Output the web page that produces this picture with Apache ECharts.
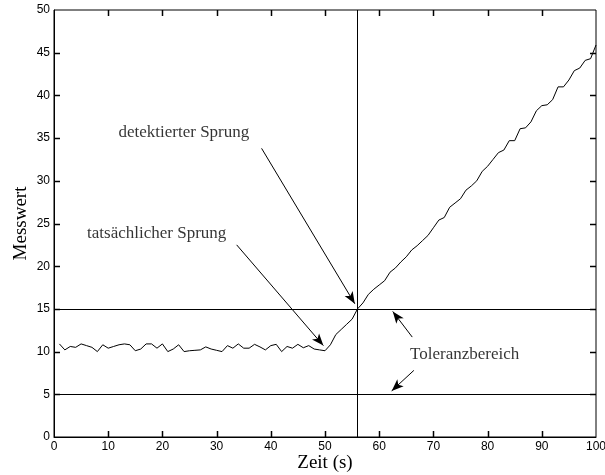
<!DOCTYPE html>
<html>
<head>
<meta charset="utf-8">
<script src="https://cdn.jsdelivr.net/npm/echarts@6/dist/echarts.min.js"></script>
<style>html,body{margin:0;padding:0;background:#fff}#c{width:605px;height:475px}</style>
</head>
<body>
<div id="c"></div>
<script>
// time (s)
var zeit = [1,2,3,4,5,6,7,8,9,10,11,12,13,14,15,16,17,18,19,20,21,22,23,24,25,26,27,28,29,30,31,32,33,34,35,36,37,38,39,40,41,42,43,44,45,46,47,48,49,50,
  51,52,53,54,55,56,57,58,59,60,61,62,63,64,65,66,67,68,69,70,71,72,73,74,75,76,77,78,79,80,81,82,83,84,85,86,87,88,89,90,91,92,93,94,95,96,97,98,99,100];
// measured value
var messwert = [10.9,10.2,10.6,10.5,10.9,10.7,10.5,10.0,10.8,10.4,10.6,10.8,10.9,10.8,10.1,10.3,10.9,10.9,10.4,10.9,10.0,10.3,10.8,10.0,10.1,10.15,10.2,10.55,10.3,10.15,10.0,10.7,10.4,10.9,10.4,10.4,10.85,10.55,10.2,10.7,10.85,10.0,10.6,10.4,10.85,10.45,10.7,10.3,10.2,10.1,
  10.8,12.0,12.6,13.2,13.8,15.0,15.7,16.7,17.3,17.8,18.3,19.3,19.8,20.5,21.1,21.9,22.4,23.0,23.6,24.5,25.4,25.7,26.9,27.4,27.9,28.9,29.4,30.0,31.1,31.7,32.5,33.3,33.6,34.7,34.7,36.1,36.2,36.9,38.2,38.8,38.9,39.5,41.0,41.0,41.8,42.9,43.2,44.1,44.3,45.9];
// tolerance band limits and detection time
var toleranzGrenzen = [15, 5];
var detektionsZeit = [56];
// arrows: [startX, startY, endX, endY]
var pfeile = [
  [38.3, 33.8, 55.5, 15.6],
  [33.7, 22.5, 49.7, 10.7],
  [66.1, 11.7, 62.5, 14.7],
  [66.4, 7.8, 62.3, 5.4]
];
// annotation texts: [x, y, text]
var beschriftungen = [
  [11.9, 35.6, 'detektierter Sprung'],
  [6.1, 23.85, 'tatsächlicher Sprung'],
  [65.7, 9.7, 'Toleranzbereich']
];
var xTicks = {min: 0, max: 100, interval: 10};
var yTicks = {min: 0, max: 50, interval: 5};
// tick values (mirrored on all four edges)
var xTickWerte = [10, 20, 30, 40, 50, 60, 70, 80, 90];
var yTickWerte = [5, 10, 15, 20, 25, 30, 35, 40, 45];

var lineData = zeit.map(function (x, i) { return [x, messwert[i]]; });
var refLines = toleranzGrenzen.map(function (v) { return {yAxis: v}; })
  .concat(detektionsZeit.map(function (v) { return {xAxis: v}; }));
var arrowLines = pfeile.map(function (p) {
  return [{coord: [p[0], p[1]], symbol: 'none'}, {coord: [p[2], p[3]], symbol: 'arrow', symbolSize: [7, 12]}];
});
var textPoints = beschriftungen.map(function (b) { return [b[0], b[1], b[2]]; });
// kind: 0 top, 1 right, 2 bottom, 3 left
var allTicks = []
  .concat(xTickWerte.map(function (v) { return [v, yTicks.max, 0]; }))
  .concat(yTickWerte.map(function (v) { return [xTicks.max, v, 1]; }))
  .concat(xTickWerte.map(function (v) { return [v, yTicks.min, 2]; }))
  .concat(yTickWerte.map(function (v) { return [xTicks.min, v, 3]; }));

var TICK = 6;
var axisBase = {
  type: 'value',
  axisLine: {show: true, lineStyle: {color: '#000', width: 1}},
  axisTick: {show: false},
  splitLine: {show: false},
  axisLabel: {color: '#000', fontFamily: 'Liberation Sans', fontSize: 12, margin: 4}
};

var chart = echarts.init(document.getElementById('c'), null, {renderer: 'canvas'});
chart.setOption({
  animation: false,
  backgroundColor: '#fff',
  grid: {left: 54, right: 9, top: 10, bottom: 38, containLabel: false, outerBoundsMode: 'none',
         show: true, borderColor: '#000', borderWidth: 1, backgroundColor: 'transparent'},
  xAxis: Object.assign({}, axisBase, {
    position: 'bottom', min: xTicks.min, max: xTicks.max, interval: xTicks.interval,
    name: 'Zeit (s)', nameLocation: 'middle', nameGap: 17, nameMoveOverlap: false,
    nameTextStyle: {fontFamily: 'Liberation Serif', fontSize: 19, color: '#000'}
  }),
  yAxis: Object.assign({}, axisBase, {
    position: 'left', min: yTicks.min, max: yTicks.max, interval: yTicks.interval,
    name: 'Messwert', nameLocation: 'middle', nameGap: 23, nameRotate: 90, nameMoveOverlap: false,
    nameTextStyle: {fontFamily: 'Liberation Serif', fontSize: 19, color: '#000'}
  }),
  series: [
    {
      type: 'line', data: lineData,
      showSymbol: false, symbol: 'none',
      lineStyle: {color: '#000', width: 1},
      markLine: {
        silent: true, symbol: ['none', 'none'], animation: false,
        label: {show: false},
        lineStyle: {color: '#000', width: 1, type: 'solid'},
        emphasis: {disabled: true},
        data: refLines
      }
    },
    {
      type: 'line', data: [],
      markLine: {
        silent: true, animation: false,
        label: {show: false},
        lineStyle: {color: '#000', width: 1, type: 'solid'},
        itemStyle: {color: '#000'},
        emphasis: {disabled: true},
        data: arrowLines
      }
    },
    {
      type: 'custom', data: allTicks, silent: true, clip: false, z: 5,
      encode: {x: 0, y: 1},
      renderItem: function (params, api) {
        var p = api.coord([api.value(0), api.value(1)]);
        var k = api.value(2);
        var px = Math.round(p[0]) + 0.5, py = Math.round(p[1]) + 0.5;
        var shape;
        if (k === 0) shape = {x1: px, y1: p[1], x2: px, y2: p[1] + TICK};
        else if (k === 2) shape = {x1: px, y1: p[1], x2: px, y2: p[1] - TICK};
        else if (k === 1) shape = {x1: p[0], y1: py, x2: p[0] - TICK, y2: py};
        else shape = {x1: p[0], y1: py, x2: p[0] + TICK, y2: py};
        return {
          type: 'line',
          shape: shape,
          style: {stroke: '#000', lineWidth: 1.5}
        };
      }
    },
    {
      type: 'scatter', data: textPoints,
      symbolSize: 0, silent: true,
      label: {
        show: true, position: [0, 0], align: 'left', verticalAlign: 'middle',
        fontFamily: 'Liberation Serif', fontSize: 17, color: '#000',
        formatter: function (p) { return p.data[2]; }
      }
    }
  ]
});
</script>
</body>
</html>
